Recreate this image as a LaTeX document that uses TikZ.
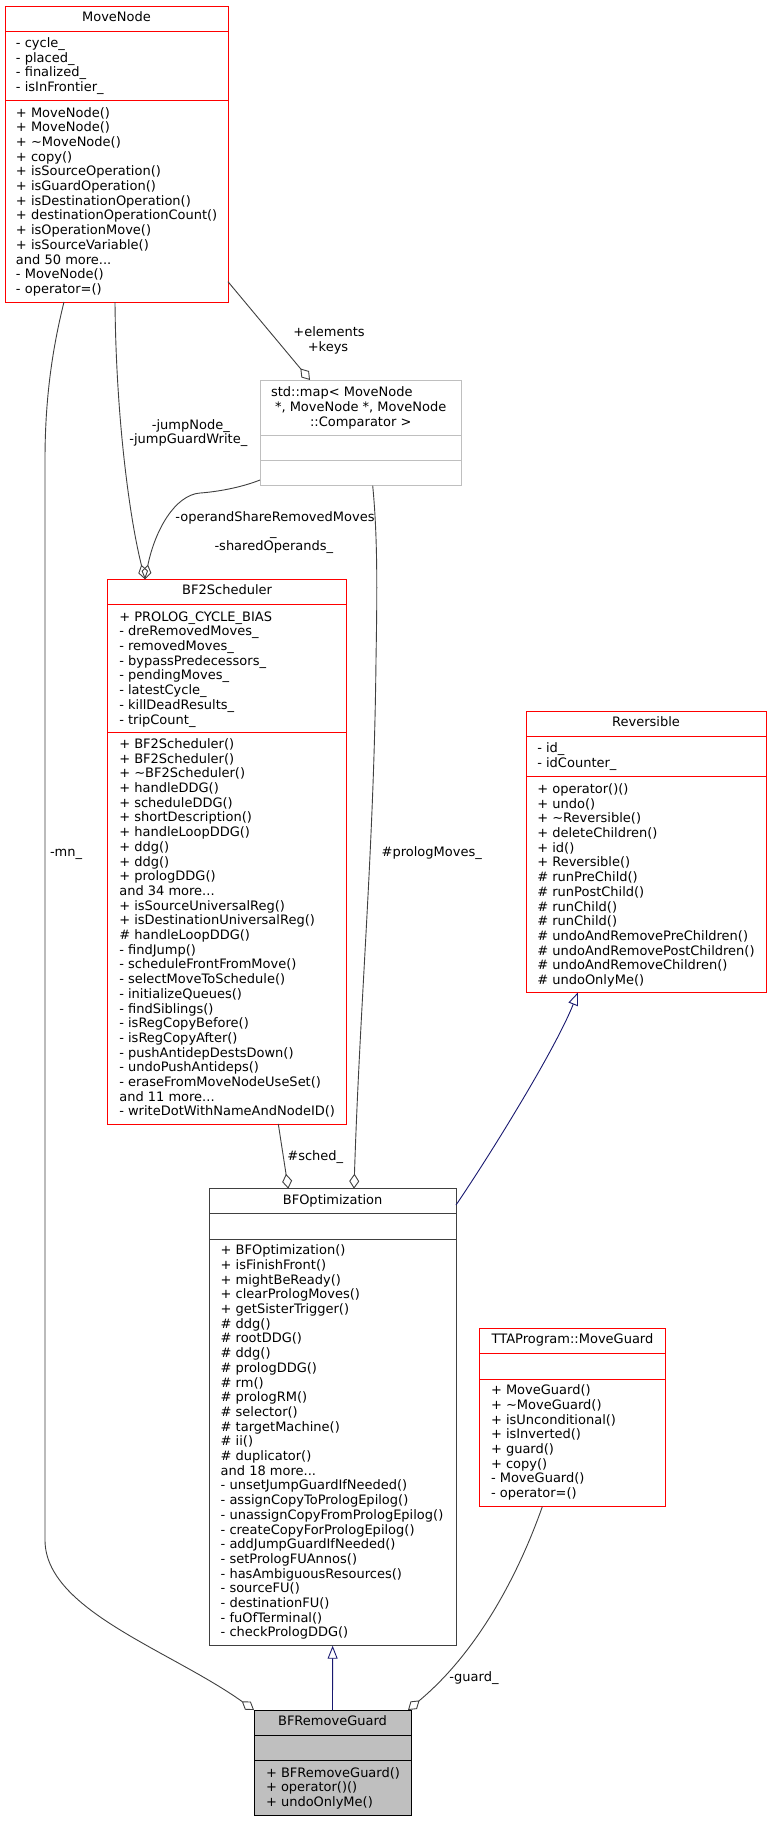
\documentclass[tikz,border=0pt]{standalone}
\usepackage{fontspec}
\setmainfont{DejaVu Sans}
\usetikzlibrary{arrows.meta}
\definecolor{boxred}{HTML}{FF0000}
\definecolor{mapgray}{HTML}{BFBFBF}
\definecolor{edgegray}{HTML}{404040}
\definecolor{inhnavy}{HTML}{191970}
\definecolor{curfill}{HTML}{BFBFBF}
\definecolor{bordark}{HTML}{404040}
\newcommand\classlines[4]{\foreach \t [count=\i from 0] in {#4} {\node[txt, anchor=base west] (#1\i) at (#2,{#3+14.7*\i}) {\t};}}
\begin{document}
\begin{tikzpicture}[x=1pt,y=-1pt,
  txt/.style={inner sep=0pt, outer sep=0pt, font=\fontsize{13}{14.7}\selectfont, text=black},
  cbox/.style={draw, line width=1pt, inner sep=0pt, outer sep=0pt, anchor=north west, fill=white},
  redbox/.style={cbox, draw=boxred},
  graybox/.style={cbox, draw=mapgray},
  darkbox/.style={cbox, draw=bordark},
  curbox/.style={cbox, draw=black, fill=curfill},
  agg/.style={draw=edgegray, line width=0.9pt, -{Diamond[open,length=15pt,width=10pt]}},
  inh/.style={draw=inhnavy, line width=0.9pt, -{Triangle[open,length=13pt,width=10pt]}},
  elabel/.style={txt}]
\fill[white] (0,0) rectangle (771,1821);
\useasboundingbox (0,0) rectangle (771,1821);

% ---------- MoveNode
\node[redbox, minimum width=223pt, minimum height=296pt] (mn) at (5,6) {};
\draw[boxred, line width=1pt] (5,31.5) -- (228,31.5) (5,100) -- (228,100);
\node[txt, anchor=base] (mnT) at (116.5,21) {MoveNode};
\classlines{mnA}{16}{47.3}{- cycle\_, - placed\_, - finalized\_, - isInFrontier\_}
\classlines{mnM}{16}{117}{+ MoveNode(), + MoveNode(), + \textasciitilde MoveNode(), + copy(), + isSourceOperation(), + isGuardOperation(), + isDestinationOperation(), + destinationOperationCount(), + isOperationMove(), + isSourceVariable(), and 50 more.{}.{}., - MoveNode(), - operator=()}

% ---------- std::map
\node[graybox, minimum width=201pt, minimum height=105.7pt] (map) at (260,380) {};
\draw[mapgray, line width=1pt] (260,435.3) -- (461,435.3) (260,460.7) -- (461,460.7);
\node[txt, anchor=base west] (mapT1) at (271,396.8) {std::map< MoveNode};
\node[txt, anchor=base west] (mapT2) at (275,411.5) {*, MoveNode *, MoveNode};
\node[txt, anchor=base west] (mapT3) at (310,426.2) {::Comparator >};

% ---------- BF2Scheduler
\node[redbox, minimum width=239.2pt, minimum height=544.7pt] (bfs) at (107.5,579.3) {};
\draw[boxred, line width=1pt] (107.5,604.3) -- (346.7,604.3) (107.5,732.7) -- (346.7,732.7);
\node[txt, anchor=base] (bfsT) at (227.1,594.5) {BF2Scheduler};
\classlines{bfsA}{119.3}{621.1}{+ PROLOG\_CYCLE\_BIAS, - dreRemovedMoves\_, - removedMoves\_, - bypassPredecessors\_, - pendingMoves\_, - latestCycle\_, - killDeadResults\_, - tripCount\_}
\classlines{bfsM}{119.3}{748.4}{+ BF2Scheduler(), + BF2Scheduler(), + \textasciitilde BF2Scheduler(), + handleDDG(), + scheduleDDG(), + shortDescription(), + handleLoopDDG(), + ddg(), + ddg(), + prologDDG(), and 34 more.{}.{}., + isSourceUniversalReg(), + isDestinationUniversalReg(), \# handleLoopDDG(), - findJump(), - scheduleFrontFromMove(), - selectMoveToSchedule(), - initializeQueues(), - findSiblings(), - isRegCopyBefore(), - isRegCopyAfter(), - pushAntidepDestsDown(), - undoPushAntideps(), - eraseFromMoveNodeUseSet(), and 11 more.{}.{}., - writeDotWithNameAndNodeID()}

% ---------- Reversible
\node[redbox, minimum width=240pt, minimum height=280.6pt] (rev) at (526,711.7) {};
\draw[boxred, line width=1pt] (526,736.7) -- (766,736.7) (526,776.7) -- (766,776.7);
\node[txt, anchor=base] (revT) at (646,726.7) {Reversible};
\classlines{revA}{537.3}{752.7}{- id\_, - idCounter\_}
\classlines{revM}{537.3}{793.4}{+ operator()(), + undo(), + \textasciitilde Reversible(), + deleteChildren(), + id(), + Reversible(), \# runPreChild(), \# runPostChild(), \# runChild(), \# runChild(), \# undoAndRemovePreChildren(), \# undoAndRemovePostChildren(), \# undoAndRemoveChildren(), \# undoOnlyMe()}

% ---------- BFOptimization
\node[darkbox, minimum width=246.7pt, minimum height=457pt] (bfo) at (209.3,1188.7) {};
\draw[bordark, line width=1pt] (209.3,1213.7) -- (456,1213.7) (209.3,1239.3) -- (456,1239.3);
\node[txt, anchor=base] (bfoT) at (332.65,1204.4) {BFOptimization};
\classlines{bfoM}{220.7}{1254.7}{+ BFOptimization(), + isFinishFront(), + mightBeReady(), + clearPrologMoves(), + getSisterTrigger(), \# ddg(), \# rootDDG(), \# ddg(), \# prologDDG(), \# rm(), \# prologRM(), \# selector(), \# targetMachine(), \# ii(), \# duplicator(), and 18 more.{}.{}., - unsetJumpGuardIfNeeded(), - assignCopyToPrologEpilog(), - unassignCopyFromPrologEpilog(), - createCopyForPrologEpilog(), - addJumpGuardIfNeeded(), - setPrologFUAnnos(), - hasAmbiguousResources(), - sourceFU(), - destinationFU(), - fuOfTerminal(), - checkPrologDDG()}

% ---------- TTAProgram::MoveGuard
\node[redbox, minimum width=185.6pt, minimum height=178.7pt] (mg) at (479.7,1328) {};
\draw[boxred, line width=1pt] (479.7,1353.3) -- (665.3,1353.3) (479.7,1379) -- (665.3,1379);
\node[txt, anchor=base] (mgT) at (572.5,1343.7) {TTAProgram::MoveGuard};
\classlines{mgM}{491}{1394.7}{+ MoveGuard(), + \textasciitilde MoveGuard(), + isUnconditional(), + isInverted(), + guard(), + copy(), - MoveGuard(), - operator=()}

% ---------- BFRemoveGuard
\node[curbox, minimum width=157pt, minimum height=105pt] (bfr) at (254,1710) {};
\draw[black, line width=1pt] (254,1735.3) -- (411,1735.3) (254,1760.7) -- (411,1760.7);
\node[txt, anchor=base] (bfrT) at (332.5,1725.1) {BFRemoveGuard};
\classlines{bfrM}{266}{1777.1}{+ BFRemoveGuard(), + operator()(), + undoOnlyMe()}

% ---------- connector end points
\coordinate (e1s) at ([xshift=59pt]mn.south west);
\coordinate (e2s) at ([xshift=110pt]mn.south west);
\coordinate (e4s) at ([yshift=20.3pt]mn.south east);
\coordinate (e4e) at ([xshift=50pt]map.north west);
\coordinate (e3s) at ([yshift=5.7pt]map.south west);
\coordinate (e5s) at ([xshift=112.7pt]map.south west);
\coordinate (bfsin) at ([xshift=37.5pt]bfs.north west);
\coordinate (e6s) at ([xshift=170.8pt]bfs.south west);
\coordinate (e6e) at ([xshift=79pt]bfo.north west);
\coordinate (e5e) at ([xshift=144.7pt]bfo.north west);
\coordinate (e7s) at ([yshift=-16.3pt]bfo.north east);
\coordinate (e7e) at ([xshift=52pt]rev.south west);
\coordinate (e9s) at ([xshift=62.6pt]mg.south west);
\coordinate (e9e) at ([xshift=-3pt]bfr.north east);

% ---------- connectors
\draw[agg] (e1s) .. controls (52,350) and (45,400) .. (45,460) -- (45,1540) .. controls (45,1610) and (170,1650) .. (bfr.north west);
\draw[agg] (e2s) .. controls (116,420) and (130,520) .. (bfsin);
\draw[agg] (e3s) .. controls (240,488) and (215,492) .. (200,493) .. controls (175,495) and (155,530) .. (bfsin);
\draw[agg] (e4s) -- (e4e);
\draw[agg] (e5s) .. controls (378,540) and (377,600) .. (376,660) .. controls (374,850) and (360,1000) .. (e5e);
\draw[agg] (e6s) -- (e6e);
\draw[inh] (e7s) .. controls (490,1155) and (555,1050) .. (e7e);
\draw[inh] (bfr.north) -- (bfo.south);
\draw[agg] (e9s) .. controls (520,1570) and (480,1650) .. (e9e);

% ---------- connector labels
\node[elabel, anchor=base west] (lmn) at (50,856.7) {-mn\_};
\node[elabel, anchor=base] (lel) at (329,336.7) {+elements};
\node[elabel, anchor=base] (lke) at (328,351.7) {+keys};
\node[elabel, anchor=base] (ljn) at (190.8,429.4) {-jumpNode\_};
\node[elabel, anchor=base] (ljg) at (188.3,443.7) {-jumpGuardWrite\_};
\node[elabel, anchor=base] (los) at (275,521) {-operandShareRemovedMoves};
\node[elabel, anchor=base] (lus) at (273.3,535.7) {\_};
\node[elabel, anchor=base] (lso) at (273.8,550.4) {-sharedOperands\_};
\node[elabel, anchor=base west] (lpm) at (381.7,856) {\#prologMoves\_};
\node[elabel, anchor=base] (lsc) at (315.3,1160) {\#sched\_};
\node[elabel, anchor=base] (lgu) at (474,1681.4) {-guard\_};
\end{tikzpicture}
\end{document}
